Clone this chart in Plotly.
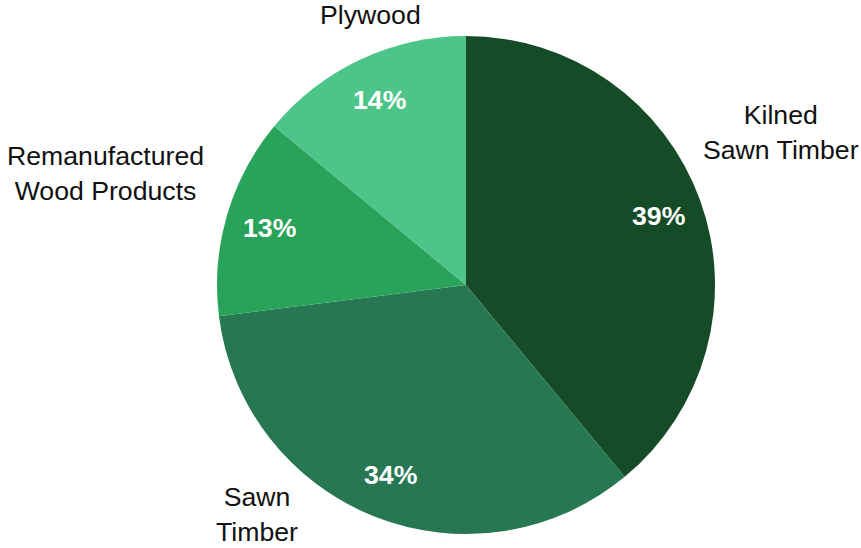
import math
import plotly.graph_objects as go

categories = ["Kilned<br>Sawn Timber", "Sawn<br>Timber", "Remanufactured<br>Wood Products", "Plywood"]
values = [39, 34, 13, 14]
colors = ["#164B27", "#277852", "#29A35A", "#4DC589"]

W, H = 861, 548
FONT = "Liberation Sans, Arial, sans-serif"
FS = 26.67  # 20pt

# pie domain in pixels (left, right, top, bottom)
PX0, PX1, PY0, PY1 = 217, 715, 36, 534
CX, CY = (PX0 + PX1) / 2, (PY0 + PY1) / 2
R = (PX1 - PX0) / 2

fig = go.Figure(go.Pie(
    labels=categories,
    values=values,
    sort=False,
    direction="clockwise",
    rotation=0,
    marker=dict(colors=colors, line=dict(width=0)),
    textinfo="none",
    domain=dict(x=[PX0 / W, PX1 / W], y=[1 - PY1 / H, 1 - PY0 / H]),
    hoverinfo="label+percent",
    showlegend=False,
))

annotations = []
# percentage labels placed at slice mid-angles
total = sum(values)
cum = 0
for v in values:
    mid = (cum + v / 2) / total * 2 * math.pi
    cum += v
    px = CX + 0.82 * R * math.sin(mid)
    py = CY - 0.82 * R * math.cos(mid)
    annotations.append(dict(
        text="<b>%d%%</b>" % round(v / total * 100), x=px / W, y=1 - py / H,
        xref="paper", yref="paper", showarrow=False,
        xanchor="center", yanchor="middle",
        font=dict(family=FONT, size=FS, color="white"),
    ))

label_pos = [(781, 132), (257, 514), (105, 173), (370, 15)]
for lab, (px, py) in zip(categories, label_pos):
    annotations.append(dict(
        text=lab, x=px / W, y=1 - py / H, xref="paper", yref="paper",
        showarrow=False, xanchor="center", yanchor="middle",
        font=dict(family=FONT, size=FS, color="#111111"),
        align="center", borderpad=0,
    ))

fig.update_layout(
    width=W, height=H,
    margin=dict(l=0, r=0, t=0, b=0),
    paper_bgcolor="white",
    plot_bgcolor="white",
    annotations=annotations,
)

fig.write_html("out.html", config={"displayModeBar": False},
               post_script="document.body.style.margin='0';document.body.style.padding='0';")
